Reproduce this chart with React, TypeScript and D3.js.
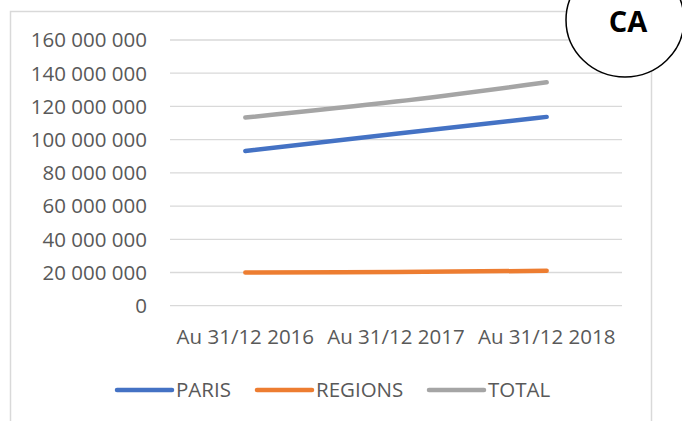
import React, { useRef, useEffect } from "react";
import * as d3 from "d3";

const categories = ["Au 31/12 2016", "Au 31/12 2017", "Au 31/12 2018"];
const paris = [93200000, 103600000, 113700000];
const regions = [20000000, 20300000, 21000000];
const total = [113300000, 122900000, 134500000];
const yTicks = [0, 20000000, 40000000, 60000000, 80000000, 100000000, 120000000, 140000000, 160000000];

const series = [
  { name: "PARIS", values: paris, color: "#4472c4" },
  { name: "REGIONS", values: regions, color: "#ed7d31" },
  { name: "TOTAL", values: total, color: "#a5a5a5" },
];

const fmt = (v: number) => d3.format(",")(v).replace(/,/g, " ");

const App: React.FC = () => {
  const chartRef = useRef<SVGSVGElement | null>(null);

  useEffect(() => {
    if (!chartRef.current) return;
    const svg = d3.select(chartRef.current);
    svg.selectAll("*").remove();

    const width = 682;
    const height = 421;
    const font = "'Open Sans', 'Noto Sans', sans-serif";

    svg.attr("width", width).attr("height", height);

    // chart frame
    svg
      .append("path")
      .attr("d", "M10.5,430 V11.5 H651.5 V430")
      .attr("fill", "none")
      .attr("stroke", "#d9d9d9")
      .attr("stroke-width", 1.5);

    const x = d3.scaleBand().domain(categories).range([170, 622]);
    const y = d3.scaleLinear().domain([0, 160000000]).range([305.7, 40]);

    // gridlines
    svg
      .append("g")
      .selectAll("line")
      .data(yTicks)
      .join("line")
      .attr("x1", 170)
      .attr("x2", 622)
      .attr("y1", (d) => y(d))
      .attr("y2", (d) => y(d))
      .attr("stroke", "#d9d9d9")
      .attr("stroke-width", 1.3);

    // y tick labels
    svg
      .append("g")
      .selectAll("text")
      .data(yTicks)
      .join("text")
      .attr("x", 147)
      .attr("y", (d) => y(d))
      .attr("dy", "0.36em")
      .attr("text-anchor", "end")
      .attr("fill", "#595959")
      .style("font-family", font)
      .style("font-size", "20.5px")
      .text((d) => fmt(d));

    // x labels
    svg
      .append("g")
      .selectAll("text")
      .data(categories)
      .join("text")
      .attr("x", (d) => x(d)! + x.bandwidth() / 2)
      .attr("y", 337)
      .attr("dy", "0.36em")
      .attr("text-anchor", "middle")
      .attr("fill", "#595959")
      .style("font-family", font)
      .style("font-size", "20.5px")
      .text((d) => d);

    // lines
    const line = d3
      .line<number>()
      .x((_, i) => x(categories[i])! + x.bandwidth() / 2)
      .y((d) => y(d))
      .curve(d3.curveMonotoneX);

    svg
      .append("g")
      .selectAll("path")
      .data(series)
      .join("path")
      .attr("d", (d) => line(d.values))
      .attr("fill", "none")
      .attr("stroke", (d) => d.color)
      .attr("stroke-width", 4.5)
      .attr("stroke-linecap", "round")
      .attr("stroke-linejoin", "round");

    // legend
    const legendX = [117, 257, 429];
    const legend = svg
      .append("g")
      .selectAll("g")
      .data(series)
      .join("g")
      .attr("transform", (_, i) => `translate(${legendX[i]},390)`);
    legend
      .append("line")
      .attr("x1", 0)
      .attr("x2", 55)
      .attr("stroke", (d) => d.color)
      .attr("stroke-width", 4.5)
      .attr("stroke-linecap", "round");
    legend
      .append("text")
      .attr("x", 59)
      .attr("dy", "0.36em")
      .attr("fill", "#595959")
      .style("font-family", font)
      .style("font-size", "20.5px")
      .text((d) => d.name);

    // "CA" bubble
    svg
      .append("ellipse")
      .attr("cx", 625)
      .attr("cy", 20)
      .attr("rx", 59)
      .attr("ry", 57)
      .attr("fill", "#fff")
      .attr("stroke", "#000")
      .attr("stroke-width", 1.5);
    svg
      .append("text")
      .attr("x", 628)
      .attr("y", 32)
      .attr("text-anchor", "middle")
      .attr("fill", "#000")
      .style("font-family", font)
      .style("font-size", "29px")
      .style("font-weight", "bold")
      .text("CA");
  }, []);

  return (
    <svg
      ref={chartRef}
      style={{ position: "absolute", left: 0, top: 0, display: "block" }}
    ></svg>
  );
};

export default App;
